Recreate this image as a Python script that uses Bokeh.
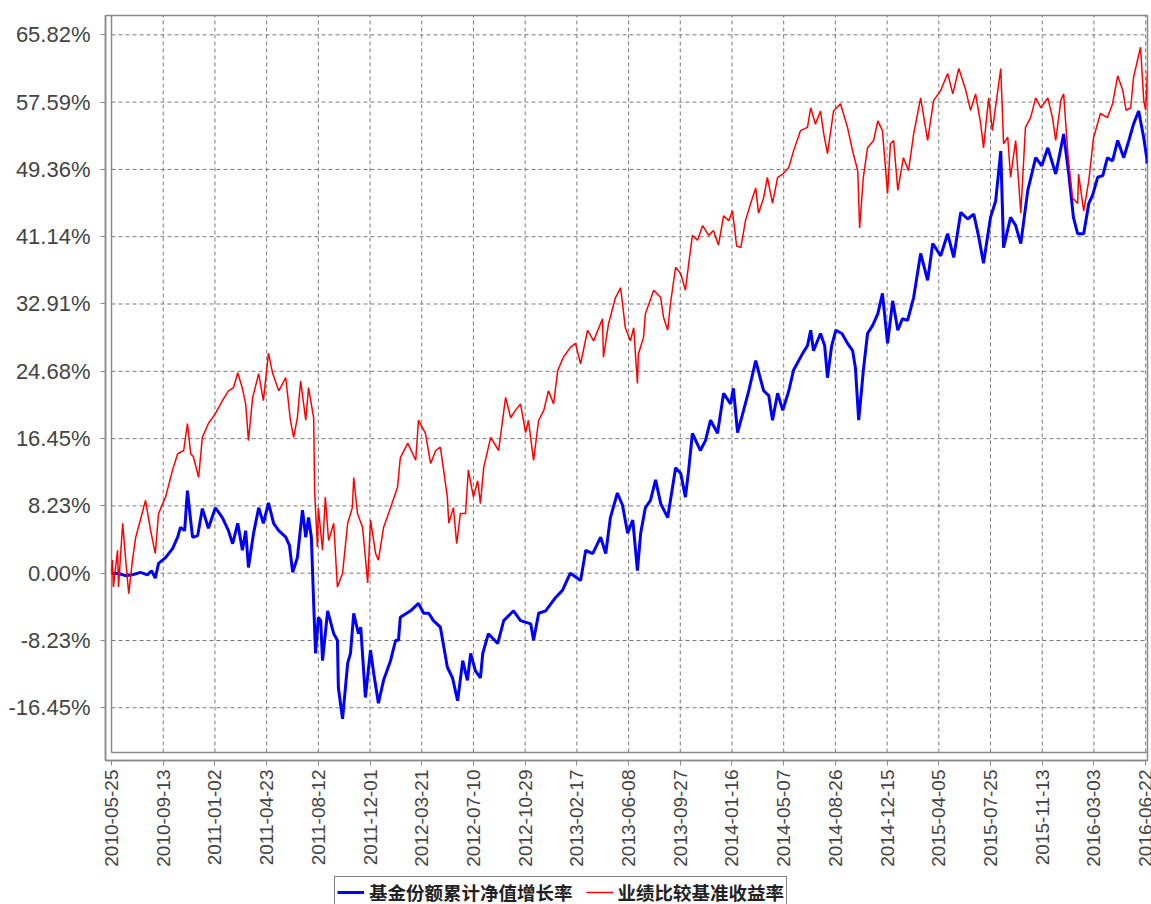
import math
import pandas as pd
from bokeh.plotting import figure
from bokeh.layouts import column
from bokeh.models import (Range1d, FixedTicker, Legend, LegendItem,
                          DatetimeTickFormatter, PrintfTickFormatter)
from bokeh.embed import file_html
from bokeh.resources import INLINE

# ---------------- data ----------------
fund_label = "基金份额累计净值增长率"
bench_label = "业绩比较基准收益率"

fund_dates = [
    "2010-05-25", "2010-06-09", "2010-06-24", "2010-07-09", "2010-07-26", "2010-08-10", "2010-08-19", "2010-08-27", "2010-09-03", "2010-09-18",
    "2010-10-03", "2010-10-14", "2010-10-20", "2010-10-29", "2010-11-04", "2010-11-11", "2010-11-15", "2010-11-26", "2010-12-06", "2010-12-19",
    "2011-01-03", "2011-01-18", "2011-01-31", "2011-02-09", "2011-02-20", "2011-03-02", "2011-03-09", "2011-03-15", "2011-03-26", "2011-04-06",
    "2011-04-16", "2011-04-27", "2011-05-08", "2011-05-19", "2011-06-03", "2011-06-11", "2011-06-18", "2011-06-28", "2011-07-09", "2011-07-16",
    "2011-07-22", "2011-07-28", "2011-08-02", "2011-08-06", "2011-08-12", "2011-08-17", "2011-08-21", "2011-09-01", "2011-09-14", "2011-09-22",
    "2011-09-24", "2011-10-03", "2011-10-14", "2011-10-20", "2011-10-27", "2011-11-06", "2011-11-11", "2011-11-21", "2011-12-02", "2011-12-09",
    "2011-12-19", "2011-12-30", "2012-01-14", "2012-01-25", "2012-01-31", "2012-02-04", "2012-02-26", "2012-03-14", "2012-03-25", "2012-04-05",
    "2012-04-15", "2012-04-30", "2012-05-15", "2012-05-26", "2012-06-06", "2012-06-17", "2012-06-27", "2012-07-04", "2012-07-14", "2012-07-25",
    "2012-07-30", "2012-08-11", "2012-08-31", "2012-09-13", "2012-10-04", "2012-10-19", "2012-11-10", "2012-11-16", "2012-11-27", "2012-12-12",
    "2013-01-02", "2013-01-17", "2013-02-03", "2013-02-25", "2013-03-08", "2013-03-23", "2013-04-09", "2013-04-20", "2013-04-30", "2013-05-15",
    "2013-05-26", "2013-06-06", "2013-06-17", "2013-06-27", "2013-07-04", "2013-07-14", "2013-07-25", "2013-08-05", "2013-08-16", "2013-08-31",
    "2013-09-17", "2013-09-28", "2013-10-08", "2013-10-15", "2013-10-23", "2013-11-09", "2013-11-20", "2013-12-01", "2013-12-16", "2013-12-29",
    "2014-01-13", "2014-01-19", "2014-01-28", "2014-02-08", "2014-02-21", "2014-03-08", "2014-03-16", "2014-03-25", "2014-04-05", "2014-04-13",
    "2014-04-24", "2014-05-05", "2014-05-18", "2014-05-28", "2014-06-17", "2014-06-27", "2014-07-04", "2014-07-10", "2014-07-25", "2014-08-03",
    "2014-08-09", "2014-08-18", "2014-08-27", "2014-09-09", "2014-09-21", "2014-10-02", "2014-10-08", "2014-10-15", "2014-10-19", "2014-10-25",
    "2014-11-03", "2014-11-14", "2014-11-25", "2014-12-05", "2014-12-16", "2014-12-27", "2015-01-07", "2015-01-17", "2015-01-28", "2015-02-10",
    "2015-02-25", "2015-03-12", "2015-03-23", "2015-04-09", "2015-04-24", "2015-05-07", "2015-05-22", "2015-06-06", "2015-06-19", "2015-06-29",
    "2015-07-10", "2015-07-25", "2015-08-05", "2015-08-16", "2015-08-22", "2015-09-06", "2015-09-17", "2015-09-28", "2015-10-13", "2015-10-30",
    "2015-11-12", "2015-11-25", "2015-12-12", "2015-12-29", "2016-01-09", "2016-01-19", "2016-01-28", "2016-02-10", "2016-02-21", "2016-02-29",
    "2016-03-11", "2016-03-22", "2016-04-01", "2016-04-12", "2016-04-23", "2016-05-06", "2016-05-17", "2016-05-27", "2016-06-07", "2016-06-18",
    "2016-06-26",
]
fund_values = [
    0.00, -0.04, -0.3, -0.2, 0.1, -0.2, 0.3, -0.6, 1.2, 1.9,
    3.0, 4.4, 5.6, 5.2, 10.1, 6.4, 4.4, 4.6, 7.9, 5.5,
    8.0, 6.8, 5.2, 3.6, 6.1, 2.8, 5.2, 0.7, 4.9, 8.0,
    6.1, 8.6, 6.1, 5.2, 4.4, 3.4, 0.1, 1.9, 7.7, 4.4,
    6.8, 4.4, -3.7, -9.8, -5.4, -5.8, -10.7, -4.6, -7.4, -8.2,
    -14.0, -17.8, -11.0, -9.8, -4.9, -7.4, -6.6, -15.2, -9.4, -12.3,
    -15.9, -13.1, -10.7, -8.2, -8.2, -5.4, -4.6, -3.7, -4.9, -4.9,
    -5.8, -6.6, -11.5, -12.8, -15.6, -10.7, -13.1, -9.8, -11.9, -12.8,
    -9.8, -7.4, -8.6, -5.8, -4.6, -5.8, -6.2, -8.2, -4.9, -4.6,
    -3.0, -2.1, 0.0, -0.9, 2.8, 2.4, 4.4, 2.4, 6.8, 9.8,
    8.3, 4.9, 6.5, 0.3, 4.9, 8.0, 8.9, 11.4, 8.5, 6.8,
    12.9, 12.2, 9.3, 12.6, 17.1, 15.0, 16.2, 18.7, 17.1, 22.0,
    20.7, 22.6, 17.2, 19.5, 22.3, 26.0, 24.2, 22.3, 21.7, 18.7,
    22.0, 19.9, 22.3, 24.8, 26.9, 27.8, 29.7, 27.2, 29.3, 27.8,
    23.9, 27.8, 29.7, 29.3, 28.1, 27.2, 25.1, 18.7, 21.1, 24.8,
    29.3, 30.3, 31.7, 34.2, 28.1, 33.3, 29.7, 31.1, 30.9, 33.7,
    39.1, 35.8, 40.3, 38.8, 41.5, 38.6, 44.1, 43.3, 43.9, 41.3,
    37.9, 43.5, 45.5, 51.6, 39.8, 43.5, 42.5, 40.3, 46.8, 50.8,
    49.8, 52.0, 48.8, 53.7, 48.8, 43.5, 41.5, 41.5, 45.2, 46.2,
    48.4, 48.6, 50.8, 50.4, 52.9, 50.8, 52.9, 54.9, 56.5, 53.2,
    50.1,
]

bench_dates = [
    "2010-05-25", "2010-05-27", "2010-05-29", "2010-06-07", "2010-06-09", "2010-06-18", "2010-06-24", "2010-07-01", "2010-07-09", "2010-07-16",
    "2010-07-26", "2010-08-06", "2010-08-17", "2010-08-27", "2010-09-03", "2010-09-18", "2010-10-03", "2010-10-14", "2010-10-27", "2010-11-04",
    "2010-11-11", "2010-11-17", "2010-11-28", "2010-12-06", "2010-12-19", "2011-01-03", "2011-01-18", "2011-01-31", "2011-02-11", "2011-02-20",
    "2011-03-02", "2011-03-09", "2011-03-15", "2011-03-24", "2011-04-06", "2011-04-16", "2011-04-27", "2011-05-06", "2011-05-19", "2011-06-03",
    "2011-06-13", "2011-06-20", "2011-06-28", "2011-07-05", "2011-07-16", "2011-07-22", "2011-08-02", "2011-08-04", "2011-08-10", "2011-08-12",
    "2011-08-21", "2011-08-27", "2011-09-03", "2011-09-14", "2011-09-22", "2011-10-03", "2011-10-14", "2011-10-24", "2011-10-27", "2011-11-04",
    "2011-11-15", "2011-11-26", "2011-12-02", "2011-12-13", "2011-12-19", "2011-12-30", "2012-01-14", "2012-01-29", "2012-02-04", "2012-02-20",
    "2012-03-08", "2012-03-14", "2012-03-29", "2012-04-09", "2012-04-20", "2012-04-30", "2012-05-15", "2012-05-18", "2012-05-28", "2012-06-04",
    "2012-06-12", "2012-06-23", "2012-06-29", "2012-07-10", "2012-07-19", "2012-07-25", "2012-08-01", "2012-08-16", "2012-09-02", "2012-09-17",
    "2012-09-28", "2012-10-08", "2012-10-19", "2012-10-30", "2012-11-05", "2012-11-16", "2012-11-27", "2012-12-08", "2012-12-18", "2012-12-29",
    "2013-01-07", "2013-01-19", "2013-02-03", "2013-02-14", "2013-02-25", "2013-03-12", "2013-03-25", "2013-04-13", "2013-04-15", "2013-04-26",
    "2013-05-11", "2013-05-22", "2013-06-01", "2013-06-12", "2013-06-19", "2013-06-27", "2013-06-29", "2013-07-10", "2013-07-14", "2013-08-01",
    "2013-08-16", "2013-08-22", "2013-08-31", "2013-09-06", "2013-09-17", "2013-09-28", "2013-10-08", "2013-10-15", "2013-10-23", "2013-11-03",
    "2013-11-14", "2013-11-27", "2013-12-07", "2013-12-18", "2013-12-29", "2014-01-09", "2014-01-17", "2014-01-26", "2014-02-04", "2014-02-14",
    "2014-02-25", "2014-03-08", "2014-03-14", "2014-03-25", "2014-04-02", "2014-04-13", "2014-04-24", "2014-05-05", "2014-05-18", "2014-05-28",
    "2014-06-12", "2014-06-27", "2014-07-04", "2014-07-14", "2014-07-25", "2014-08-01", "2014-08-09", "2014-08-22", "2014-09-06", "2014-09-21",
    "2014-10-02", "2014-10-13", "2014-10-17", "2014-10-25", "2014-11-03", "2014-11-16", "2014-11-25", "2014-12-05", "2014-12-16", "2014-12-22",
    "2014-12-29", "2015-01-07", "2015-01-19", "2015-01-30", "2015-02-10", "2015-02-25", "2015-03-12", "2015-03-25", "2015-04-09", "2015-04-24",
    "2015-05-05", "2015-05-18", "2015-06-02", "2015-06-12", "2015-06-23", "2015-07-04", "2015-07-10", "2015-07-21", "2015-07-29", "2015-08-16",
    "2015-08-22", "2015-08-31", "2015-09-06", "2015-09-17", "2015-09-28", "2015-10-08", "2015-10-19", "2015-10-30", "2015-11-10", "2015-11-25",
    "2015-12-05", "2015-12-12", "2015-12-23", "2015-12-29", "2016-01-07", "2016-01-17", "2016-01-28", "2016-01-30", "2016-02-10", "2016-02-21",
    "2016-03-02", "2016-03-17", "2016-04-01", "2016-04-12", "2016-04-23", "2016-05-04", "2016-05-11", "2016-05-21", "2016-05-27", "2016-06-11",
    "2016-06-18", "2016-06-22", "2016-06-26",
]
bench_values = [
    0.1, 1.6, -1.7, 2.8, -1.7, 6.1, 1.9, -2.5, 1.6, 4.4,
    6.5, 8.9, 5.2, 2.4, 7.3, 9.3, 12.6, 14.6, 15.0, 18.3,
    14.6, 14.2, 11.7, 16.6, 18.3, 19.5, 21.1, 22.3, 22.7, 24.5,
    22.6, 20.7, 16.2, 21.5, 24.4, 21.1, 26.9, 24.4, 22.3, 23.9,
    18.7, 16.6, 19.0, 23.5, 18.7, 22.7, 19.0, 10.1, 3.2, 8.0,
    2.8, 9.3, 4.0, 6.1, -1.7, 0.0, 6.1, 8.0, 11.7, 7.3,
    5.6, -1.2, 6.5, 2.4, 1.6, 5.6, 8.0, 10.5, 14.1, 15.9,
    13.8, 18.7, 17.1, 13.4, 15.0, 15.4, 9.3, 6.1, 8.0, 3.6,
    7.3, 7.3, 12.6, 9.3, 11.3, 8.5, 12.9, 16.6, 15.0, 21.5,
    19.0, 19.9, 20.7, 17.2, 18.7, 13.8, 18.7, 19.9, 22.3, 20.7,
    24.8, 26.4, 27.6, 28.1, 25.6, 29.7, 28.4, 31.1, 26.4, 30.5,
    33.7, 34.9, 30.0, 28.4, 30.0, 23.2, 26.8, 28.8, 31.7, 34.6,
    33.7, 31.3, 29.7, 33.0, 37.4, 36.6, 34.6, 37.8, 41.3, 40.7,
    42.5, 41.3, 41.9, 40.1, 43.7, 43.1, 44.3, 40.0, 39.8, 43.1,
    45.2, 47.1, 44.0, 45.9, 48.4, 45.2, 48.4, 48.8, 49.6, 51.6,
    54.1, 54.5, 56.9, 54.9, 56.5, 53.7, 51.3, 56.5, 57.4, 54.5,
    51.6, 49.2, 42.2, 48.4, 52.0, 52.9, 55.3, 54.1, 46.4, 52.5,
    52.9, 46.8, 50.8, 49.2, 53.7, 58.1, 52.9, 57.8, 59.0, 61.1,
    58.6, 61.7, 59.0, 56.6, 58.6, 54.9, 52.0, 58.1, 54.1, 61.7,
    52.5, 53.3, 48.4, 52.9, 44.0, 54.5, 55.7, 58.1, 56.9, 58.1,
    55.7, 52.9, 57.8, 58.6, 51.3, 45.9, 45.2, 48.8, 44.3, 48.0,
    53.2, 56.2, 55.7, 57.4, 60.8, 59.0, 56.6, 56.9, 60.6, 64.3,
    57.8, 56.6, 61.4,
]

x_tick_labels = [
    "2010-05-25", "2010-09-13", "2011-01-02", "2011-04-23", "2011-08-12", "2011-12-01", "2012-03-21",
    "2012-07-10", "2012-10-29", "2013-02-17", "2013-06-08", "2013-09-27", "2014-01-16", "2014-05-07",
    "2014-08-26", "2014-12-15", "2015-04-05", "2015-07-25", "2015-11-13", "2016-03-03", "2016-06-22",
]
y_tick_values = [65.82, 57.59, 49.36, 41.14, 32.91, 24.68, 16.45, 8.23, 0.00, -8.23, -16.45]

# ---------------- helpers ----------------
def ms(s):
    return pd.Timestamp(s).timestamp() * 1000.0

DAY = 86400000.0
x_inner = ms(x_tick_labels[0])
x_outer = x_inner - 12.9 * DAY
x_end = ms("2016-06-26")
y_top = 68.18
y_inner = -21.92
y_outer = -22.90

FRAME = "#8a8a8a"
GRID = "#7a7a7a"
TEXT = "#444444"
BLUE = "#0000FF"
RED = "#FF0000"

p = figure(width=1151, height=875, output_backend="svg", toolbar_location=None,
           x_axis_type="datetime",
           x_range=Range1d(x_outer, x_end), y_range=Range1d(y_outer, y_top),
           min_border_left=105, min_border_top=15, min_border_right=4, min_border_bottom=115)
p.background_fill_color = "white"
p.border_fill_color = "white"
p.outline_line_color = FRAME
p.outline_line_width = 1.5
p.xgrid.visible = False
p.ygrid.visible = False

# grid (dashed) inside the inner frame
x_ticks_ms = [ms(s) for s in x_tick_labels]
p.segment(x0=x_ticks_ms, y0=[y_inner] * len(x_ticks_ms), x1=x_ticks_ms, y1=[y_top] * len(x_ticks_ms),
          line_color=GRID, line_width=1, line_dash="4 3")
p.segment(x0=[x_inner] * len(y_tick_values), y0=y_tick_values, x1=[x_end] * len(y_tick_values), y1=y_tick_values,
          line_color=GRID, line_width=1, line_dash="4 3")

# inner frame lines
p.segment(x0=[x_inner, x_inner], y0=[y_inner, y_inner], x1=[x_inner, x_end], y1=[y_top, y_inner],
          line_color=FRAME, line_width=1.5)

# series
fund_x = pd.to_datetime(fund_dates)
bench_x = pd.to_datetime(bench_dates)
p.line(fund_x, fund_values, line_color=BLUE, line_width=3)
p.line(bench_x, bench_values, line_color=RED, line_width=1.5)

# axes
for ax in (p.xaxis[0], p.yaxis[0]):
    ax.axis_line_color = FRAME
    ax.axis_line_width = 1.5
    ax.major_tick_line_color = FRAME
    ax.major_tick_in = 0
    ax.major_tick_out = 5
    ax.minor_tick_line_color = None
    ax.major_label_text_color = TEXT
    ax.major_label_text_font = "Liberation Sans"

p.yaxis.ticker = FixedTicker(ticks=y_tick_values)
p.yaxis.formatter = PrintfTickFormatter(format="%.2f%%")
p.yaxis.major_label_text_font_size = "22px"
p.yaxis.major_label_standoff = 10

fmt = "%Y-%m-%d"
p.xaxis.ticker = FixedTicker(ticks=x_ticks_ms)
p.xaxis.formatter = DatetimeTickFormatter(milliseconds=fmt, seconds=fmt, minsec=fmt, minutes=fmt,
                                          hourmin=fmt, hours=fmt, days=fmt, months=fmt, years=fmt)
p.xaxis.major_label_orientation = math.pi / 2
p.xaxis.major_label_text_font_size = "19px"
p.xaxis.major_label_standoff = 4

# ---------------- legend strip (cut at the bottom like the reference) ----------------
lf = figure(width=1151, height=29, output_backend="svg", toolbar_location=None,
            x_range=Range1d(0, 1), y_range=Range1d(0, 1),
            x_axis_location=None, y_axis_location=None,
            min_border_left=105, min_border_top=0, min_border_right=4, min_border_bottom=0)
lf.xgrid.visible = False
lf.ygrid.visible = False
lf.outline_line_color = None
lf.background_fill_color = "white"
lf.border_fill_color = "white"
# off-range stand-ins so the legend can draw its line samples
lr_fund = lf.line(x=[5, 6], y=[5, 6], line_color=BLUE, line_width=3)
lr_bench = lf.line(x=[5, 6], y=[5, 6], line_color=RED, line_width=1.5)

legend = Legend(items=[LegendItem(label=fund_label, renderers=[lr_fund]),
                       LegendItem(label=bench_label, renderers=[lr_bench])],
                orientation="horizontal", location=(229, -4))
legend.label_text_font = "Noto Sans CJK SC"
legend.label_text_font_size = "18.5px"
legend.label_text_font_style = "bold"
legend.label_text_color = "#222222"
legend.border_line_color = "black"
legend.border_line_width = 1.5
legend.background_fill_color = "white"
legend.background_fill_alpha = 1
legend.padding = 2
legend.spacing = 13
legend.label_standoff = 5
legend.glyph_width = 27
legend.glyph_height = 20
legend.margin = 0
lf.add_layout(legend)

open("out.html", "w").write(file_html(column(p, lf), INLINE))
